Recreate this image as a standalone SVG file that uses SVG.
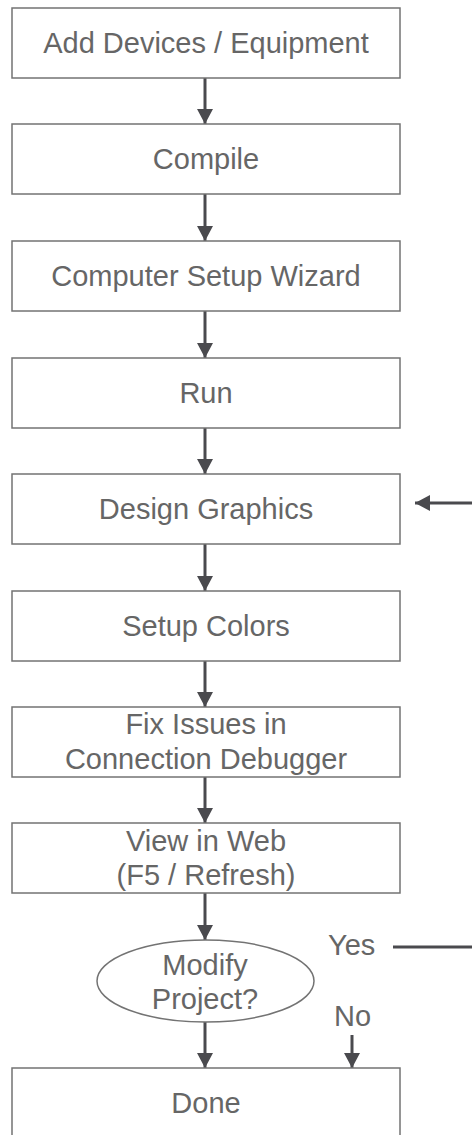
<svg xmlns="http://www.w3.org/2000/svg" width="472" height="1135" viewBox="0 0 472 1135">
<style>
.box{fill:#fff;stroke:#737373;stroke-width:1.5}
.t{font-family:"Liberation Sans",Arial,sans-serif;font-size:29px;fill:#666;text-anchor:middle}
.tl{font-family:"Liberation Sans",Arial,sans-serif;font-size:29px;fill:#666}
.c{fill:none;stroke:#4a4a4e;stroke-width:3}
</style>
<defs>
<marker id="ah" viewBox="0 0 15 16" refX="15" refY="8" markerWidth="15" markerHeight="16" markerUnits="userSpaceOnUse" orient="auto">
<path d="M0,0 L15,8 L0,16 Z" fill="#4a4a4e"/>
</marker>
</defs>
<rect width="472" height="1135" fill="#fff"/>
<g id="connectors">
<line class="c" x1="205" y1="78" x2="205" y2="124" marker-end="url(#ah)"/>
<line class="c" x1="205" y1="194" x2="205" y2="241" marker-end="url(#ah)"/>
<line class="c" x1="205" y1="311" x2="205" y2="358" marker-end="url(#ah)"/>
<line class="c" x1="205" y1="428" x2="205" y2="474" marker-end="url(#ah)"/>
<line class="c" x1="205" y1="544" x2="205" y2="591" marker-end="url(#ah)"/>
<line class="c" x1="205" y1="661" x2="205" y2="707" marker-end="url(#ah)"/>
<line class="c" x1="205" y1="777" x2="205" y2="823" marker-end="url(#ah)"/>
<line class="c" x1="205" y1="893" x2="205" y2="940" marker-end="url(#ah)"/>
<line class="c" x1="205" y1="1022" x2="205" y2="1068" marker-end="url(#ah)"/>
<line class="c" x1="352" y1="1035" x2="352" y2="1068" marker-end="url(#ah)"/>
<line class="c" x1="393" y1="947" x2="472" y2="947"/>
<line class="c" x1="472" y1="503" x2="415" y2="503" marker-end="url(#ah)"/>
<text class="tl" x="328" y="955">Yes</text>
<text class="tl" x="334" y="1026">No</text>
</g>
<g id="n1"><rect class="box" x="12" y="8" width="388" height="70"/><text class="t" x="206" y="53">Add Devices / Equipment</text></g>
<g id="n2"><rect class="box" x="12" y="124" width="388" height="70"/><text class="t" x="206" y="169">Compile</text></g>
<g id="n3"><rect class="box" x="12" y="241" width="388" height="70"/><text class="t" x="206" y="286">Computer Setup Wizard</text></g>
<g id="n4"><rect class="box" x="12" y="358" width="388" height="70"/><text class="t" x="206" y="403">Run</text></g>
<g id="n5"><rect class="box" x="12" y="474" width="388" height="70"/><text class="t" x="206" y="519">Design Graphics</text></g>
<g id="n6"><rect class="box" x="12" y="591" width="388" height="70"/><text class="t" x="206" y="636">Setup Colors</text></g>
<g id="n7"><rect class="box" x="12" y="707" width="388" height="70"/><text class="t" x="206" y="734">Fix Issues in</text><text class="t" x="206" y="769">Connection Debugger</text></g>
<g id="n8"><rect class="box" x="12" y="823" width="388" height="70"/><text class="t" x="206" y="851">View in Web</text><text class="t" x="206" y="885">(F5 / Refresh)</text></g>
<g id="n9"><ellipse class="box" cx="205.5" cy="981" rx="108.5" ry="41"/><text class="t" x="205" y="975">Modify</text><text class="t" x="205" y="1009">Project?</text></g>
<g id="n10"><rect class="box" x="12" y="1068" width="388" height="70"/><text class="t" x="206" y="1113">Done</text></g>
</svg>
